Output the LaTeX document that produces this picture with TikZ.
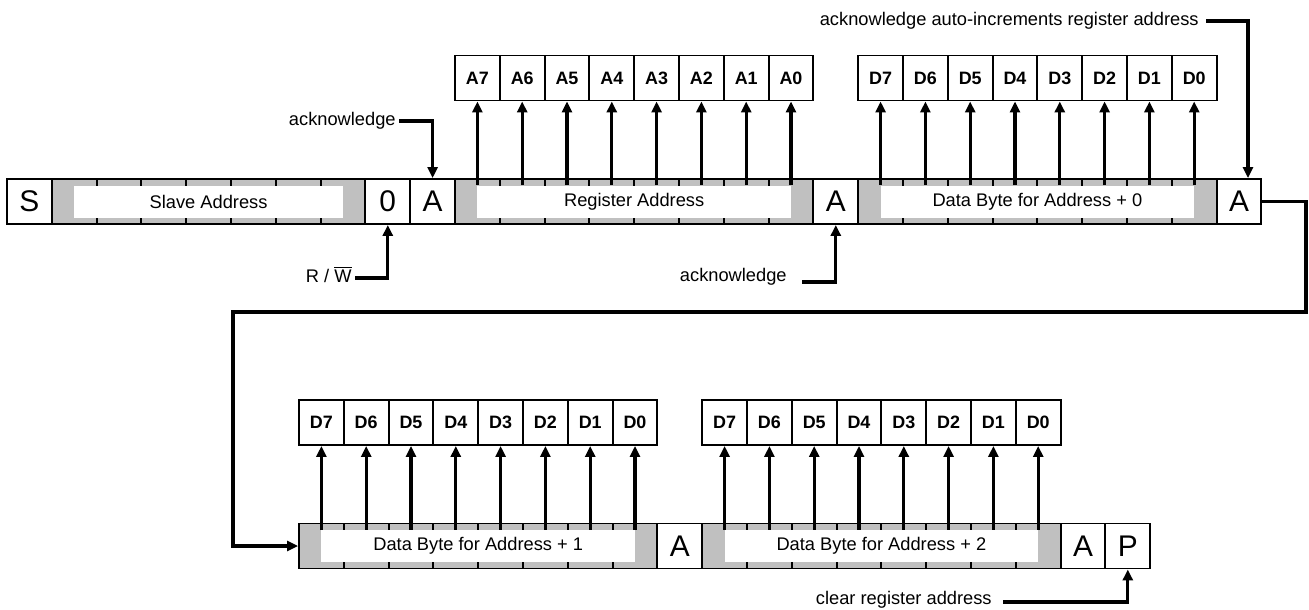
\documentclass[tikz,border=0pt]{standalone}
\usepackage{fontspec}
\setmainfont{Liberation Sans}
\usetikzlibrary{arrows.meta,positioning,calc}
\definecolor{cellGray}{HTML}{C0C0C0}

\begin{document}
\begin{tikzpicture}[x=0.02cm,y=-0.02cm,
  cell/.style={draw,line width=1.1pt,fill=white,minimum width=0.896cm,minimum height=0.9cm,inner sep=0,font=\fontsize{17}{17}\selectfont},
  bitcell/.style={cell,fill=cellGray},
  bitbox/.style={cell,font=\bfseries\fontsize{10.2}{12}\selectfont},
  lbl/.style={fill=white,minimum height=0.64cm,inner sep=0,font=\fontsize{10.4}{12}\selectfont},
  note/.style={inner sep=0,font=\fontsize{10.4}{12}\selectfont},
  sig/.style={-{Triangle[length=2.2mm,width=2mm]},line width=1.8pt},
  wrap/.style={sig,line width=2.2pt}]
  \useasboundingbox (0,0) rectangle (1309,609);
  % single bit cells
  \node[cell] (start) at (29.4,201.5) {S};
  \node[cell] (rw) at (387.8,201.5) {0};
  \node[cell] (ackA) at (432.6,201.5) {A};
  \node[cell] (ackB) at (835.8,201.5) {A};
  \node[cell] (ackC) at (1239,201.5) {A};
  \node[cell] (ackD) at (679.8,546) {A};
  \node[cell] (ackE) at (1083,546) {A};
  \node[cell] (stop) at (1127.8,546) {P};
  % bytes
  \foreach \nm/\x/\y/\n/\txt in {slave/51.8/201.5/7/{Slave Address},
      regad/455/201.5/8/{Register Address},
      dataA/858.2/201.5/8/{Data Byte for Address + 0},
      dataB/299/546/8/{Data Byte for Address + 1},
      dataC/702.2/546/8/{Data Byte for Address + 2}} {
    \foreach \i in {1,...,\n}
      \node[bitcell] (\nm\i) at ({\x+(\i-0.5)*44.8},\y) {};
    \node[lbl,minimum width={(\n-1)*0.896cm}] (\nm txt) at ({\x+\n*22.4},\y) {\txt};
  }
  % bit boxes above the bytes
  \foreach \nm/\y/\p in {regad/78/A, dataA/78/D, dataB/422.5/D, dataC/422.5/D}
    \foreach \i in {1,...,8} {
      \pgfmathtruncatemacro\bitno{8-\i}
      \node[bitbox] (\nm b\i) at (\nm\i |- 0,\y) {\p\bitno};
      \draw[sig] (\nm\i |- \nm txt.north) -- (\nm b\i);
    }
  % notes
  \node[note,anchor=base east] (ackAnote) at (396,125) {acknowledge};
  \node[note,anchor=base east] (rwnote) at (352,282) {R / $\overline{\hbox{W}}$};
  \node[note,anchor=base east] (ackBnote) at (787,281) {acknowledge};
  \node[note,anchor=base east] (incnote) at (1199,25) {acknowledge auto-increments register address};
  \node[note,anchor=base east] (clrnote) at (992,604) {clear register address};
  \draw[sig] ([shift={(3,-4)}]ackAnote.base east) -| (ackA.north);
  \draw[sig] ([shift={(3,-4)}]rwnote.base east) -| (rw.south);
  \draw[sig] ([shift={(15,1)}]ackBnote.base east) -| (ackB.south);
  \draw[sig] ([shift={(7,-4)}]incnote.base east) -| ([xshift=0.18cm]ackC.north);
  \draw[sig] ([shift={(11,-2)}]clrnote.base east) -| (stop.south);
  % wrap to second row
  \coordinate (turnR) at (1306,312);
  \coordinate (turnL) at (233,312);
  \draw[wrap] (ackC.east) -| (turnR) -- (turnL) |- (dataB1.west);
\end{tikzpicture}
\end{document}
